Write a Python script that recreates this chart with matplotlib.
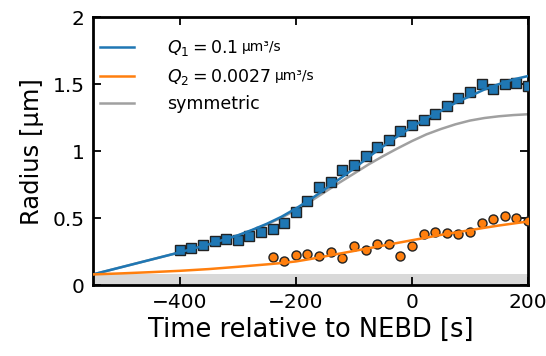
import numpy as np
import matplotlib
matplotlib.use('Agg')
import matplotlib.pyplot as plt
from matplotlib.ticker import FuncFormatter

sq_t = [-400, -380, -360, -340, -320, -300, -280, -260, -240, -220, -200, -180, -160,
        -140, -120, -100, -80, -60, -40, -20, 0, 20, 40, 60, 80, 100, 120, 140, 160, 180, 200]
sq_r = [0.261, 0.274, 0.301, 0.326, 0.341, 0.338, 0.368, 0.396, 0.418, 0.463, 0.543, 0.629, 0.731,
        0.771, 0.858, 0.896, 0.963, 1.032, 1.082, 1.149, 1.192, 1.231, 1.274, 1.336, 1.393, 1.443,
        1.500, 1.460, 1.498, 1.510, 1.485]

ci_t = [-240, -220, -200, -180, -160, -140, -120, -100, -80, -60, -40, -20, 0,
        20, 40, 60, 80, 100, 120, 140, 160, 180, 200]
ci_r = [0.211, 0.179, 0.224, 0.235, 0.215, 0.244, 0.199, 0.293, 0.266, 0.306, 0.304, 0.216, 0.291,
        0.381, 0.393, 0.386, 0.381, 0.398, 0.465, 0.492, 0.515, 0.498, 0.480]

# model curves
curve_t = [-550, -500, -450, -400, -350, -300, -275, -250, -225, -200, -175, -150, -125, -100,
           -75, -50, -25, 0, 25, 50, 75, 100, 125, 150, 175, 200]
q1_r = [0.08, 0.135, 0.19, 0.245, 0.305, 0.372, 0.413, 0.458, 0.51, 0.572, 0.64, 0.715, 0.792, 0.87,
        0.955, 1.035, 1.11, 1.18, 1.245, 1.30, 1.36, 1.41, 1.46, 1.50, 1.535, 1.56]
q2_r = [0.08, 0.088, 0.097, 0.107, 0.12, 0.137, 0.146, 0.155, 0.165, 0.177, 0.195, 0.215, 0.235, 0.255,
        0.275, 0.295, 0.315, 0.335, 0.355, 0.375, 0.393, 0.41, 0.428, 0.445, 0.46, 0.475]
sym_r = [0.08, 0.135, 0.19, 0.245, 0.305, 0.37, 0.41, 0.453, 0.503, 0.56, 0.625, 0.695, 0.765, 0.832,
         0.9, 0.962, 1.02, 1.075, 1.125, 1.165, 1.2, 1.228, 1.247, 1.26, 1.269, 1.275]

band_top = 0.08

blue = '#1f77b4'
orange = '#ff7f0e'
grey = '#a0a0a0'

fig = plt.figure(figsize=(5.46, 3.56), dpi=100)
ax = fig.add_axes([0.170, 0.199, 0.797, 0.753])

ax.axhspan(0, band_top, color='#d9d9d9', zorder=0, lw=0)

l3, = ax.plot(curve_t, sym_r, color=grey, lw=1.8, zorder=2)
ax.plot(sq_t, sq_r, 's', ms=6.5, color=blue, mec='#222222', mew=1.0, zorder=3)
ax.plot(ci_t, ci_r, 'o', ms=6.5, color=orange, mec='#222222', mew=1.0, zorder=3)
l1, = ax.plot(curve_t, q1_r, color=blue, lw=1.8, zorder=4)
l2, = ax.plot(curve_t, q2_r, color=orange, lw=1.8, zorder=4)

ax.set_xlim(-550, 200)
ax.set_ylim(0, 2)
ax.set_xticks([-400, -200, 0, 200])
ax.set_yticks([0, 0.5, 1, 1.5, 2])
ax.yaxis.set_major_formatter(FuncFormatter(lambda v, p: f'{v:g}'))
ax.tick_params(direction='in', top=True, right=True, length=6, width=1.3, labelsize=14.5, pad=6)
for s in ax.spines.values():
    s.set_linewidth(2.0)

ax.set_xlabel('Time relative to NEBD [s]', fontsize=18.5, labelpad=3)
ax.set_ylabel('Radius [µm]', fontsize=17.5, labelpad=6)

leg = ax.legend([l1, l2, l3], [r'$Q_1 = 0.1$', r'$Q_2 = 0.0027$', 'symmetric'],
                loc='upper left', bbox_to_anchor=(0.0, 0.948), borderaxespad=0,
                frameon=False, fontsize=12.5, handlelength=2.0,
                labelspacing=0.5, handletextpad=1.9)

# small unit text after the first two legend entries
fig.canvas.draw()
inv = fig.transFigure.inverted()
for txt in leg.get_texts()[:2]:
    bb = txt.get_window_extent()
    x0, y0 = inv.transform((bb.x1 + 3, (bb.y0 + bb.y1) / 2 + 1))
    fig.text(x0, y0, 'µm³/s', fontsize=10, va='center', ha='left')

fig.savefig('out.png', dpi=100)
